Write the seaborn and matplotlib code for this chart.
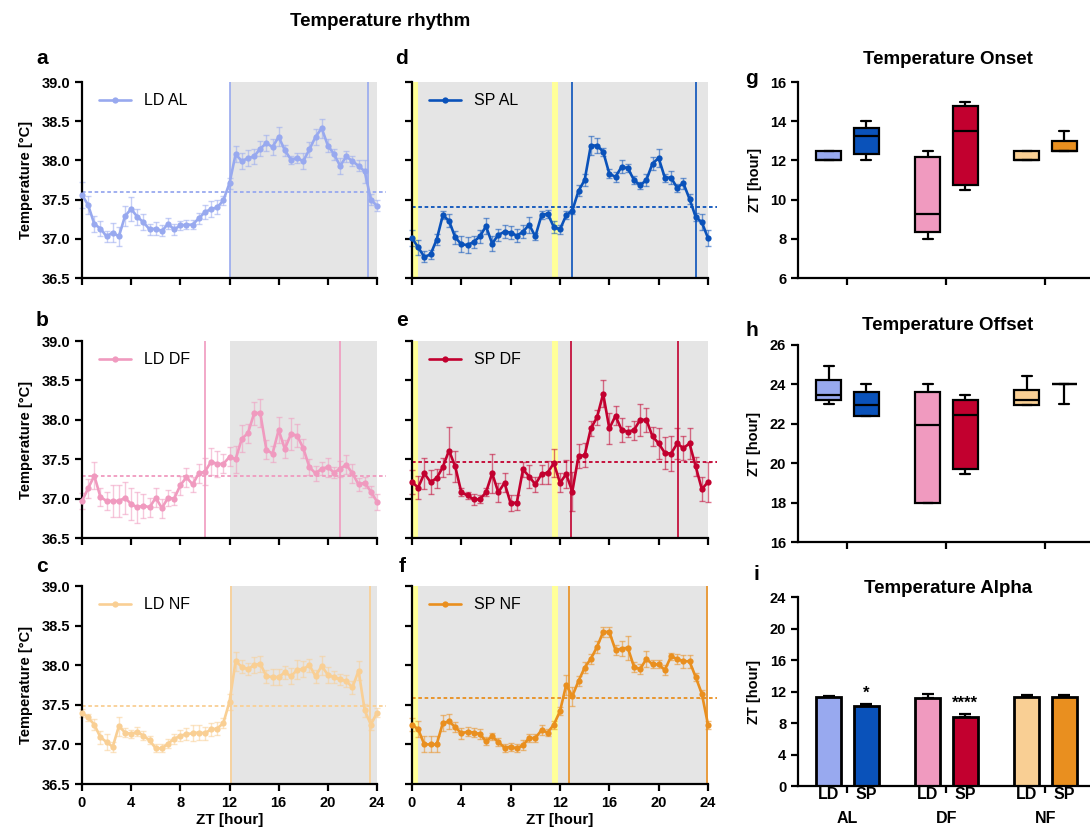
import numpy as np
import pandas as pd
import matplotlib
matplotlib.use("Agg")
import matplotlib.pyplot as plt
import seaborn as sns

sns.set_style("ticks")
plt.rcParams['font.family'] = ['Liberation Sans', 'DejaVu Sans']
plt.rcParams['font.weight'] = 'bold'
for k in ["text.color", "axes.labelcolor", "xtick.color", "ytick.color", "axes.edgecolor"]:
    plt.rcParams[k] = "black"

# ---------------- data ----------------
zt = [0, 0.5, 1, 1.5, 2, 2.5, 3, 3.5, 4, 4.5, 5, 5.5, 6, 6.5, 7, 7.5, 8, 8.5, 9, 9.5,
      10, 10.5, 11, 11.5, 12, 12.5, 13, 13.5, 14, 14.5, 15, 15.5, 16, 16.5, 17, 17.5,
      18, 18.5, 19, 19.5, 20, 20.5, 21, 21.5, 22, 22.5, 23, 23.5, 24]

ld_al = [37.56, 37.43, 37.19, 37.13, 37.03, 37.08, 37.03, 37.29, 37.38, 37.28, 37.21, 37.12,
         37.13, 37.10, 37.19, 37.12, 37.17, 37.18, 37.18, 37.26, 37.34, 37.38, 37.40, 37.49,
         37.71, 38.08, 37.99, 38.03, 38.05, 38.15, 38.22, 38.17, 38.30, 38.13, 38.01, 38.03,
         37.99, 38.14, 38.30, 38.41, 38.19, 38.08, 37.93, 38.05, 37.99, 37.93, 37.86, 37.50, 37.42]
ld_al_sem = [0.17, 0.12, 0.10, 0.10, 0.07, 0.12, 0.12, 0.13, 0.15, 0.10, 0.10, 0.07, 0.08, 0.07,
             0.07, 0.07, 0.06, 0.06, 0.06, 0.07, 0.09, 0.10, 0.09, 0.06, 0.07, 0.10, 0.10, 0.10,
             0.10, 0.10, 0.10, 0.10, 0.12, 0.07, 0.05, 0.06, 0.10, 0.10, 0.10, 0.12, 0.08, 0.07,
             0.10, 0.07, 0.06, 0.07, 0.15, 0.07, 0.07]

ld_df = [36.97, 37.13, 37.29, 37.02, 36.97, 36.97, 36.97, 37.01, 36.93, 36.89, 36.91, 36.89,
         37.01, 36.88, 37.01, 37.00, 37.17, 37.27, 37.18, 37.32, 37.34, 37.47, 37.44, 37.44,
         37.53, 37.50, 37.76, 37.83, 38.08, 38.09, 37.62, 37.57, 37.87, 37.63, 37.82, 37.80,
         37.64, 37.40, 37.32, 37.38, 37.40, 37.33, 37.38, 37.43, 37.32, 37.18, 37.20, 37.09, 36.96]
ld_df_sem = [0.10, 0.12, 0.17, 0.12, 0.12, 0.20, 0.20, 0.20, 0.20, 0.20, 0.15, 0.12, 0.12, 0.12,
             0.10, 0.08, 0.12, 0.12, 0.10, 0.12, 0.17, 0.17, 0.17, 0.12, 0.12, 0.17, 0.17, 0.12,
             0.15, 0.18, 0.12, 0.10, 0.17, 0.12, 0.20, 0.15, 0.12, 0.10, 0.10, 0.08, 0.12, 0.07,
             0.10, 0.12, 0.12, 0.08, 0.07, 0.07, 0.10]

ld_nf = [37.40, 37.34, 37.25, 37.09, 37.03, 36.97, 37.23, 37.15, 37.13, 37.16, 37.11, 37.05,
         36.95, 36.95, 37.01, 37.07, 37.11, 37.13, 37.14, 37.15, 37.14, 37.19, 37.20, 37.27,
         37.54, 38.05, 37.98, 37.95, 38.00, 38.02, 37.86, 37.85, 37.85, 37.91, 37.86, 37.94,
         37.95, 38.00, 37.86, 37.99, 37.88, 37.85, 37.82, 37.80, 37.72, 37.93, 37.43, 37.25, 37.40]
ld_nf_sem = [0.05, 0.05, 0.07, 0.08, 0.10, 0.06, 0.12, 0.06, 0.05, 0.06, 0.06, 0.05, 0.05, 0.05,
             0.06, 0.06, 0.07, 0.08, 0.10, 0.10, 0.08, 0.08, 0.08, 0.06, 0.10, 0.12, 0.08, 0.08,
             0.10, 0.10, 0.08, 0.10, 0.10, 0.08, 0.10, 0.12, 0.10, 0.08, 0.08, 0.12, 0.10, 0.08,
             0.07, 0.08, 0.08, 0.12, 0.08, 0.07, 0.06]

sp_al = [37.01, 36.89, 36.77, 36.80, 36.99, 37.30, 37.23, 37.02, 36.93, 36.92, 36.96, 37.03,
         37.16, 36.94, 37.05, 37.09, 37.08, 37.04, 37.09, 37.18, 37.03, 37.30, 37.32, 37.15,
         37.12, 37.30, 37.36, 37.61, 37.75, 38.19, 38.19, 38.11, 37.83, 37.79, 37.92, 37.90,
         37.75, 37.68, 37.75, 37.96, 38.03, 37.78, 37.78, 37.65, 37.71, 37.51, 37.28, 37.21, 37.01]
sp_al_sem = [0.10, 0.10, 0.07, 0.06, 0.07, 0.05, 0.08, 0.08, 0.10, 0.10, 0.08, 0.08, 0.10, 0.10,
             0.08, 0.08, 0.08, 0.08, 0.08, 0.10, 0.05, 0.05, 0.05, 0.08, 0.06, 0.05, 0.05, 0.07,
             0.08, 0.12, 0.10, 0.05, 0.06, 0.06, 0.08, 0.05, 0.05, 0.04, 0.08, 0.08, 0.12, 0.05,
             0.08, 0.05, 0.07, 0.06, 0.05, 0.10, 0.10]

sp_df = [37.21, 37.14, 37.32, 37.21, 37.26, 37.40, 37.61, 37.41, 37.08, 37.04, 36.99, 36.99,
         37.08, 37.32, 37.08, 37.20, 36.94, 36.95, 37.37, 37.28, 37.18, 37.31, 37.33, 37.45,
         37.20, 37.31, 37.09, 37.54, 37.55, 37.89, 38.03, 38.33, 37.89, 38.05, 37.87, 37.85,
         37.87, 38.00, 38.00, 37.79, 37.70, 37.58, 37.57, 37.70, 37.64, 37.70, 37.41, 37.12, 37.21]
sp_df_sem = [0.15, 0.15, 0.20, 0.15, 0.12, 0.12, 0.30, 0.20, 0.05, 0.05, 0.07, 0.05, 0.05, 0.25,
             0.12, 0.12, 0.10, 0.10, 0.10, 0.15, 0.10, 0.12, 0.15, 0.18, 0.12, 0.18, 0.25, 0.15,
             0.15, 0.10, 0.10, 0.17, 0.20, 0.12, 0.15, 0.07, 0.12, 0.20, 0.15, 0.12, 0.20, 0.20,
             0.22, 0.20, 0.15, 0.20, 0.12, 0.15, 0.25]

sp_nf = [37.25, 37.19, 37.00, 37.00, 37.00, 37.27, 37.29, 37.22, 37.14, 37.16, 37.15, 37.13,
         37.04, 37.10, 37.03, 36.96, 36.97, 36.95, 36.99, 37.08, 37.08, 37.18, 37.15, 37.25,
         37.42, 37.75, 37.61, 37.80, 37.97, 38.08, 38.23, 38.42, 38.42, 38.19, 38.21, 38.22,
         37.98, 37.95, 38.08, 38.01, 38.01, 37.94, 38.11, 38.08, 38.05, 38.05, 37.85, 37.64, 37.25]
sp_nf_sem = [0.08, 0.10, 0.10, 0.10, 0.10, 0.10, 0.10, 0.06, 0.07, 0.06, 0.06, 0.06, 0.05, 0.05,
             0.05, 0.05, 0.05, 0.05, 0.06, 0.05, 0.05, 0.06, 0.05, 0.05, 0.05, 0.12, 0.12, 0.06,
             0.07, 0.06, 0.07, 0.06, 0.06, 0.06, 0.10, 0.15, 0.06, 0.06, 0.10, 0.05, 0.05, 0.06,
             0.05, 0.06, 0.08, 0.08, 0.05, 0.05, 0.05]

mesor = {"LD AL": 37.60, "LD DF": 37.29, "LD NF": 37.49,
         "SP AL": 37.41, "SP DF": 37.47, "SP NF": 37.58}
marker_lines = {"LD AL": [12.0, 23.25], "LD DF": [10.0, 21.0], "LD NF": [12.1, 23.4],
                "SP AL": [13.0, 23.05], "SP DF": [12.9, 21.6], "SP NF": [12.7, 23.95]}
dark_phase = {"LD": (12, 24), "SP": (0, 24)}
light_pulses = [(0, 0.45), (11.35, 11.8)]

groups = ["AL", "DF", "NF"]
conds = ["LD", "SP"]

onset_min = [12.0, 12.0, 8.0, 10.5, 12.0, 12.5]
onset_q1 = [12.0, 12.35, 8.35, 10.75, 12.0, 12.5]
onset_med = [12.0, 13.25, 9.25, 13.5, 12.0, 12.5]
onset_q3 = [12.5, 13.65, 12.15, 14.8, 12.5, 13.0]
onset_max = [12.5, 14.0, 12.5, 15.0, 12.5, 13.5]

offset_min = [23.0, 22.4, 18.0, 19.45, 22.95, 23.0]
offset_q1 = [23.2, 22.4, 18.0, 19.7, 22.95, 24.0]
offset_med = [23.45, 22.95, 21.95, 22.45, 23.2, 24.0]
offset_q3 = [24.2, 23.6, 23.6, 23.2, 23.7, 24.0]
offset_max = [24.95, 24.0, 24.0, 23.45, 24.45, 24.0]

alpha_mean = [11.3, 10.1, 11.2, 8.8, 11.3, 11.25]
alpha_sem = [0.15, 0.35, 0.45, 0.3, 0.25, 0.25]
alpha_stars = ["", "*", "", "****", "", ""]

colors = {"LD AL": "#98a9ef", "SP AL": "#0a52ba", "LD DF": "#f09abf", "SP DF": "#c2002f",
          "LD NF": "#f9cf94", "SP NF": "#e98f1f"}
bar_colors = [colors["LD AL"], colors["SP AL"], colors["LD DF"], colors["SP DF"],
              colors["LD NF"], colors["SP NF"]]

# ---------------- figure ----------------
W, H = 1090, 830
fig = plt.figure(figsize=(W / 100, H / 100), dpi=100)


def add_ax(x0, y0, x1, y1):
    return fig.add_axes([x0 / W, 1 - y1 / H, (x1 - x0) / W, (y1 - y0) / H])


def style_ax(ax):
    for s in ["top", "right"]:
        ax.spines[s].set_visible(False)
    for s in ["left", "bottom"]:
        ax.spines[s].set_linewidth(1.6)
        ax.spines[s].set_color("black")
    ax.tick_params(width=1.6, length=5, labelsize=10.5, colors="black")
    for lab in ax.get_xticklabels() + ax.get_yticklabels():
        lab.set_fontweight("bold")


rows_y = [(82, 278), (341, 538), (586, 784)]
cols_x = [(82, 377), (412, 708)]
series = {"LD AL": (ld_al, ld_al_sem), "LD DF": (ld_df, ld_df_sem), "LD NF": (ld_nf, ld_nf_sem),
          "SP AL": (sp_al, sp_al_sem), "SP DF": (sp_df, sp_df_sem), "SP NF": (sp_nf, sp_nf_sem)}

for ci, cond in enumerate(conds):
    for ri, grp in enumerate(groups):
        name = f"{cond} {grp}"
        vals, sem = series[name]
        (x0, x1), (y0, y1) = cols_x[ci], rows_y[ri]
        ax = add_ax(x0, y0, x1, y1)
        col = colors[name]
        ax.axvspan(*dark_phase[cond], color="#e5e5e5", zorder=0, lw=0)
        if cond == "SP":
            for a, b in light_pulses:
                ax.axvspan(a, b, color="#ffff99", zorder=0.5, lw=0)
        for v in marker_lines[name]:
            ax.axvline(v, color=col, lw=1.2, zorder=1)
        ax.axhline(mesor[name], color=col, lw=1.3, ls=(0, (2, 1.5)), zorder=1,
                   xmax=1.03, clip_on=False)
        ax.errorbar(zt, vals, yerr=sem, fmt="none", ecolor=col, alpha=0.55,
                    elinewidth=1.0, capsize=2, capthick=1.0, zorder=2, clip_on=False)
        df = pd.DataFrame({"ZT": zt, "T": vals})
        sns.lineplot(data=df, x="ZT", y="T", ax=ax, color=col, marker="o", markersize=4.5,
                     markeredgewidth=0, linewidth=1.9, label=name, zorder=3, clip_on=False)
        ax.set_xlim(0, 24)
        ax.set_ylim(36.5, 39.0)
        ax.set_xticks([0, 4, 8, 12, 16, 20, 24])
        ax.set_yticks([36.5, 37.0, 37.5, 38.0, 38.5, 39.0])
        ax.yaxis.set_major_formatter(matplotlib.ticker.FormatStrFormatter("%.1f"))
        leg = ax.legend(loc="upper left", frameon=False, fontsize=11.5, handlelength=2.0,
                        bbox_to_anchor=(0.02, 1.0), borderaxespad=0.3)
        for t in leg.get_texts():
            t.set_fontweight("normal")
            t.set_color("black")
        style_ax(ax)
        ax.set_xlabel("")
        ax.set_ylabel("")
        if ri < 2:
            ax.tick_params(labelbottom=False)
        else:
            ax.set_xlabel("ZT [hour]", fontsize=11, fontweight="bold", labelpad=2)
        if ci == 1:
            ax.tick_params(labelleft=False)
        else:
            ax.set_ylabel("Temperature [°C]", fontsize=10.5, fontweight="bold", labelpad=6)

# ---------------- box plots ----------------
group_pos = [0, 1, 2]
offs = [-0.19, 0.19]
box_pos = [g + o for g in group_pos for o in offs]


def box_panel(y0, y1, mins, q1s, meds, q3s, maxs, ylim, yticks, title, title_y):
    ax = add_ax(798, y0, 1090, y1)
    stats = [dict(whislo=a, q1=b, med=c, q3=d, whishi=e, fliers=[])
             for a, b, c, d, e in zip(mins, q1s, meds, q3s, maxs)]
    bp = ax.bxp(stats, positions=box_pos, widths=0.25, patch_artist=True, showfliers=False,
                capwidths=0.1,
                boxprops=dict(linewidth=1.6, edgecolor="black"),
                medianprops=dict(color="black", linewidth=1.6),
                whiskerprops=dict(color="black", linewidth=1.6),
                capprops=dict(color="black", linewidth=1.6), manage_ticks=False)
    for patch, c in zip(bp["boxes"], bar_colors):
        patch.set_facecolor(c)
    ax.set_xlim(-0.5, 2.45)
    ax.set_ylim(*ylim)
    ax.set_yticks(yticks)
    ax.set_xticks(group_pos)
    ax.set_xticklabels([])
    style_ax(ax)
    ax.set_ylabel("ZT [hour]", fontsize=10.5, fontweight="bold", labelpad=6)
    fig.text(948 / W, 1 - title_y / H, title, ha="center", va="center",
             fontsize=13.5, fontweight="bold")
    return ax


box_panel(82, 278, onset_min, onset_q1, onset_med, onset_q3, onset_max, (6, 16),
          [6, 8, 10, 12, 14, 16], "Temperature Onset", 60)
box_panel(345, 542, offset_min, offset_q1, offset_med, offset_q3, offset_max, (16, 26),
          [16, 18, 20, 22, 24, 26], "Temperature Offset", 325)

# ---------------- bar plot ----------------
axi = add_ax(798, 597, 1090, 786)
bdf = pd.DataFrame({"group": [g for g in groups for _ in conds],
                    "cond": [c for _ in groups for c in conds],
                    "alpha": alpha_mean})
sns.barplot(data=bdf, x="group", y="alpha", hue="cond", order=groups, hue_order=conds,
            ax=axi, width=0.76, gap=0.34, errorbar=None, legend=False,
            edgecolor="black", linewidth=2)
bars = sorted(axi.patches, key=lambda p: p.get_x())
for p, c in zip(bars, bar_colors):
    p.set_facecolor(c)
centers = [p.get_x() + p.get_width() / 2 for p in bars]
tops = [p.get_height() for p in bars]
axi.errorbar(centers, tops, yerr=[[0] * len(alpha_sem), alpha_sem], fmt="none",
             ecolor="black", elinewidth=1.6, capsize=4, capthick=1.6, zorder=0.5)
for x, t, s, st in zip(centers, tops, alpha_sem, alpha_stars):
    if st:
        axi.text(x, t + s + 0.4, st, ha="center", va="bottom", fontsize=12, fontweight="bold")
axi.set_xlim(-0.5, 2.45)
axi.set_ylim(0, 24)
axi.set_yticks([0, 4, 8, 12, 16, 20, 24])
style_ax(axi)
axi.set_xticks(group_pos)
axi.set_xticklabels(groups, fontweight="bold", fontsize=11.5)
axi.set_xticks(centers, minor=True)
axi.set_xticklabels([c for _ in groups for c in conds], minor=True,
                    fontweight="bold", fontsize=11.5)
axi.tick_params(axis="x", which="major", pad=13)
axi.tick_params(axis="x", which="minor", length=0, pad=1)
axi.set_xlabel("")
axi.set_ylabel("ZT [hour]", fontsize=10.5, fontweight="bold", labelpad=6)
fig.text(948 / W, 1 - 588 / H, "Temperature Alpha", ha="center", va="center",
         fontsize=13.5, fontweight="bold")

# ---------------- texts ----------------
fig.text(380 / W, 1 - 21 / H, "Temperature rhythm", ha="center", va="center",
         fontsize=13.5, fontweight="bold")
letters = [("a", 42, 58), ("b", 42, 320), ("c", 42, 566), ("d", 402, 58), ("e", 402, 320),
           ("f", 402, 566), ("g", 752, 78), ("h", 752, 330), ("i", 756, 574)]
for s, x, y in letters:
    fig.text(x / W, 1 - y / H, s, ha="center", va="center", fontsize=15, fontweight="bold")

fig.savefig("out.png", dpi=100)
